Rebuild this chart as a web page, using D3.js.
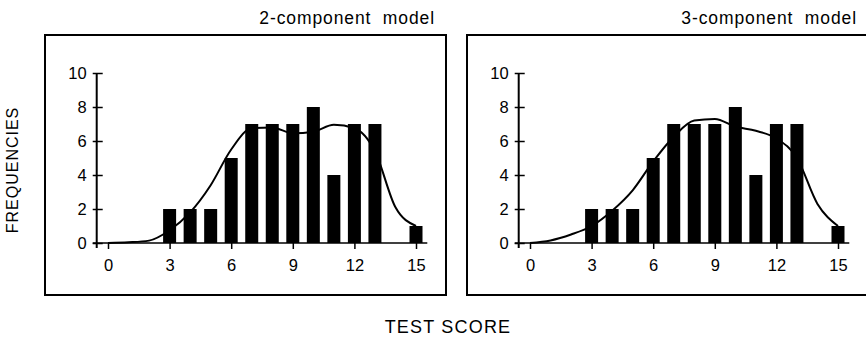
<!DOCTYPE html>
<html>
<head>
<meta charset="utf-8">
<script src="https://cdn.jsdelivr.net/npm/d3@7"></script>
<style>
	body { margin: 0; background: #fff; }
	text { font-family: "Liberation Sans", Arial, sans-serif; fill: #000; }
</style>
</head>
<body>
<script>
//Test score bins and observed frequencies
let scores = [0, 1, 2, 3, 4, 5, 6, 7, 8, 9, 10, 11, 12, 13, 14, 15];
let observed = [0, 0, 0, 2, 2, 2, 5, 7, 7, 7, 8, 4, 7, 7, 0, 1];

//Fitted curves
let fit2 = [0, 0.04, 0.14, 0.75, 1.8, 3.4, 5.5, 6.75, 6.8, 6.45, 6.55, 6.95, 6.75, 5.4, 2.1, 1.0];
let fit3 = [0, 0.15, 0.5, 1.0, 1.9, 3.1, 4.8, 6.25, 7.2, 7.3, 6.85, 6.6, 6.15, 5.0, 2.3, 1.0];

//Panel titles and tick values
let titles = ["2-component  model", "3-component  model"];
let xTicks = [0, 3, 6, 9, 12, 15];
let yTicks = [0, 2, 4, 6, 8, 10];

window.onload = function(){
	let w = 866, h = 340;

	let svg = d3.select("body")
		.append("svg")
		.attr("width", w)
		.attr("height", h);

	//Panel frames (left edge of each box)
	let panels = [
		{ left: 45, title: titles[0], fit: fit2 },
		{ left: 467, title: titles[1], fit: fit3 }
	];
	let boxW = 401, boxTop = 35, boxBottom = 295;

	//Scales relative to the panel's left edge
	let x = d3.scaleLinear()
		.domain([0, 15])
		.range([63, 371]);

	let y = d3.scaleLinear()
		.domain([0, 10])
		.range([243, 73]);

	let barW = 13;
	let axisX = x(-0.55);

	panels.forEach(function(p){
		let g = svg.append("g")
			.attr("transform", "translate(" + p.left + ",0)");

		//Box
		g.append("rect")
			.attr("x", 0)
			.attr("y", boxTop)
			.attr("width", boxW)
			.attr("height", boxBottom - boxTop)
			.style("fill", "none")
			.style("stroke", "#000")
			.style("stroke-width", 2);

		//Title
		g.append("text")
			.attr("x", 390)
			.attr("y", 24)
			.attr("text-anchor", "end")
			.style("font-size", "17.5px")
			.style("letter-spacing", "0.9px")
			.style("white-space", "pre")
			.text(p.title);

		//Bars
		g.selectAll(".bar")
			.data(scores.filter(function(d, i){ return observed[i] > 0; }))
			.enter()
			.append("rect")
			.attr("class", "bar")
			.attr("x", function(d){ return x(d) - barW / 2; })
			.attr("y", function(d){ return y(observed[d]); })
			.attr("width", barW)
			.attr("height", function(d){ return y(0) - y(observed[d]); })
			.style("fill", "#000");

		//Fitted curve
		let line = d3.line()
			.x(function(d, i){ return x(scores[i]); })
			.y(function(d){ return y(d); })
			.curve(d3.curveMonotoneX);

		g.append("path")
			.datum(p.fit)
			.attr("d", line)
			.style("fill", "none")
			.style("stroke", "#000")
			.style("stroke-width", 2);

		//Y axis with crossing ticks
		let yAxis = d3.axisLeft(y)
			.tickValues(yTicks)
			.tickSize(4)
			.tickSizeOuter(0)
			.tickPadding(6);

		let ya = g.append("g")
			.attr("transform", "translate(" + axisX + ",0)")
			.call(yAxis);
		ya.select(".domain").remove();
		ya.selectAll(".tick line").attr("x1", 6).style("stroke-width", 1.5);
		ya.selectAll(".tick text").style("font-size", "16.5px")
			.style("font-family", "Liberation Sans, Arial, sans-serif");

		//X axis
		let xAxis = d3.axisBottom(x)
			.tickValues(xTicks)
			.tickSize(6)
			.tickSizeOuter(0)
			.tickPadding(10);

		let xa = g.append("g")
			.attr("transform", "translate(0," + y(0) + ")")
			.call(xAxis);
		xa.select(".domain").remove();
		xa.selectAll(".tick line").style("stroke-width", 1.5);
		xa.selectAll(".tick text").style("font-size", "16.5px")
			.style("font-family", "Liberation Sans, Arial, sans-serif");

		//Axis lines
		g.append("line")
			.attr("x1", axisX).attr("x2", axisX)
			.attr("y1", y(10)).attr("y2", y(0) + 5)
			.style("stroke", "#000").style("stroke-width", 2);
		g.append("line")
			.attr("x1", axisX - 4).attr("x2", x(15.55))
			.attr("y1", y(0)).attr("y2", y(0))
			.style("stroke", "#000").style("stroke-width", 1.5);
	});

	//Shared axis titles
	svg.append("text")
		.attr("transform", "translate(18,170) rotate(-90)")
		.attr("text-anchor", "middle")
		.style("font-size", "16px")
		.style("letter-spacing", "1px")
		.text("FREQUENCIES");

	svg.append("text")
		.attr("x", 448)
		.attr("y", 333)
		.attr("text-anchor", "middle")
		.style("font-size", "18px")
		.style("letter-spacing", "1.2px")
		.text("TEST SCORE");
};
</script>
</body>
</html>
